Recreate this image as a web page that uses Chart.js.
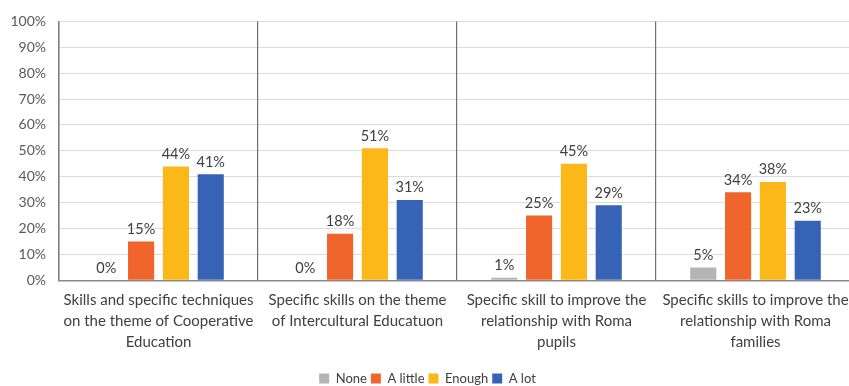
<!DOCTYPE html>
<html>
<head>
<meta charset="utf-8">
<script src="https://cdn.jsdelivr.net/npm/chart.js@4/dist/chart.umd.min.js"></script>
<style>
  html, body { margin: 0; padding: 0; background: #fff; overflow: hidden; }
  #wrap { width: 862px; height: 395px; }
</style>
</head>
<body>
<div id="wrap"><canvas id="myChart" width="862" height="395"></canvas></div>
<script>
// categories (x axis, multi-line)
const categories = [
  ["Skills and specific techniques", "on the theme of Cooperative", "Education"],
  ["Specific skills on the theme", "of Intercultural Educatuon"],
  ["Specific skill to improve the", "relationship with Roma", "pupils"],
  ["Specific skills to improve the", "relationship with Roma", "families"]
]
const seriesNames = ["None", "A little", "Enough", "A lot"]
const noneVals = [0, 0, 1, 5]
const littleVals = [15, 18, 25, 34]
const enoughVals = [44, 51, 45, 38]
const lotVals = [41, 31, 29, 23]
const yTicks = [0, 10, 20, 30, 40, 50, 60, 70, 80, 90, 100]

const colors = ['#b4b4b4', '#f0652c', '#fcb718', '#3763b7']
const font = 'Lato, "Open Sans", sans-serif'

// draws the % value above every bar
const valueLabels = {
  id: 'valueLabels',
  afterDatasetsDraw(chart) {
    const ctx = chart.ctx
    ctx.save()
    ctx.font = '14.5px ' + font
    ctx.fillStyle = '#404040'
    ctx.textAlign = 'center'
    ctx.textBaseline = 'bottom'
    chart.data.datasets.forEach((ds, i) => {
      chart.getDatasetMeta(i).data.forEach((bar, j) => {
        ctx.fillText(ds.data[j] + '%', bar.x, bar.y - 5)
      })
    })
    ctx.restore()
  }
}

const allSeries = [noneVals, littleVals, enoughVals, lotVals]
const ctx = document.getElementById('myChart').getContext('2d')
const myChart = new Chart(ctx, {
  type: 'bar',
  data: {
    labels: categories,
    datasets: allSeries.map((vals, i) => ({
      label: seriesNames[i],
      data: vals,
      backgroundColor: colors[i],
      categoryPercentage: 0.70,
      barPercentage: 0.75
    }))
  },
  options: {
    responsive: false,
    animation: false,
    layout: { padding: { left: 0, right: 7, top: 20, bottom: 0 } },
    scales: {
      y: {
        min: 0,
        max: 100,
        afterBuildTicks: (axis) => { axis.ticks = yTicks.map(v => ({ value: v })) },
        afterFit: (axis) => { axis.width = 59 },
        ticks: {
          callback: v => v + '%',
          color: '#595959',
          font: { size: 14, family: font },
          padding: 13
        },
        grid: { color: '#dcdcdc', drawTicks: false },
        border: { color: '#7f7f7f', width: 1.5 }
      },
      x: {
        ticks: {
          color: '#404040',
          font: { size: 15, family: font, lineHeight: 1.37 },
          padding: 10,
          maxRotation: 0,
          autoSkip: false
        },
        grid: { color: '#6f6f6f', lineWidth: 1.2, drawTicks: false, offset: true },
        border: { color: '#8a8a8a', width: 1.5 },
        afterFit: (axis) => { axis.height += 6 }
      }
    },
    plugins: {
      legend: {
        position: 'bottom',
        labels: {
          boxWidth: 10,
          boxHeight: 10,
          padding: 4,
          color: '#404040',
          font: { size: 13, family: font }
        }
      },
      tooltip: { enabled: false }
    }
  },
  plugins: [valueLabels]
})
</script>
</body>
</html>
